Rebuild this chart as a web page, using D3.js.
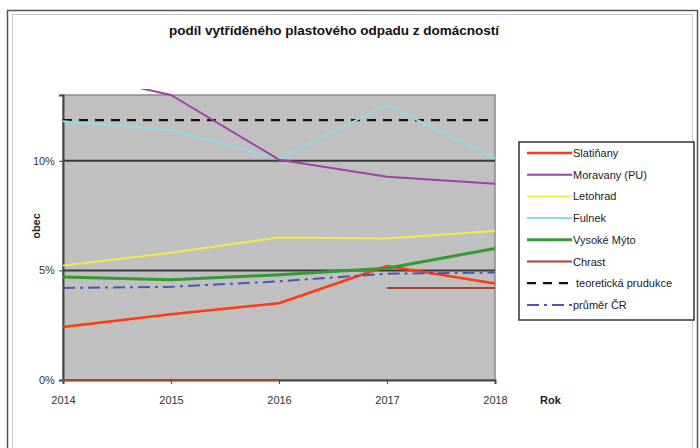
<!DOCTYPE html>
<html><head><meta charset="utf-8">
<script src="https://cdn.jsdelivr.net/npm/d3@7"></script>
<style>
html,body{margin:0;padding:0;background:#fff;}
svg{display:block;font-family:"Liberation Sans",Arial,sans-serif;}
</style></head>
<body>
<svg id="c" width="700" height="448"></svg>
<script>
const years = [2014, 2015, 2016, 2017, 2018];
const yTicks = [0, 5, 10];
const slatinany = [2.42, 3.0, 3.5, 5.2, 4.4];
const moravany = [14.1, 13.0, 10.05, 9.27, 8.95];
const letohrad = [5.22, 5.8, 6.5, 6.45, 6.8];
const fulnek = [11.8, 11.4, 10.1, 12.55, 10.1];
const vysokeMyto = [4.7, 4.57, 4.8, 5.1, 6.0];
const chrast = [0, 0, 0, 4.2, 4.2];
const chrastBreakAfter = 2016;
const teoreticka = [11.85, 11.85, 11.85, 11.85, 11.85];
const prumerCR = [4.2, 4.25, 4.5, 4.85, 4.9];

const seriesNames = ["Slatiňany","Moravany (PU)","Letohrad","Fulnek","Vysoké Mýto","Chrast","teoretická prudukce","průměr ČR"];
const seriesData = [slatinany, moravany, letohrad, fulnek, vysokeMyto, chrast, teoreticka, prumerCR];
const seriesColors = ["#ff3a10","#a040a8","#f2ea48","#90dce4","#349a34","#a84428","#111111","#4a56b0"];
const seriesWidths = [2.5, 2, 2, 2, 3, 2, 2.2, 2];
const seriesDash = [null,null,null,null,null,null,"9,7","12,5,3,5"];

const svg = d3.select("#c");
// outer frame
svg.append("rect").attr("x",7.5).attr("y",10.5).attr("width",690).attr("height",445)
  .attr("fill","#fff").attr("stroke","#555").attr("stroke-width",1.5);
svg.append("rect").attr("x",12.5).attr("y",14.5).attr("width",680).attr("height",440)
  .attr("fill","none").attr("stroke","#c8c8c8").attr("stroke-width",1);

const L=63, R=495, T=95, B=380;
const x = d3.scaleLinear().domain([2014,2018]).range([L,R]);
const y = d3.scaleLinear().domain([0,13]).range([B,T]);

svg.append("text").attr("x",334).attr("y",35).attr("text-anchor","middle")
  .attr("font-size",13.5).attr("font-weight","bold").attr("fill","#111")
  .text("podíl vytříděného plastového odpadu z domácností");

svg.append("rect").attr("x",L).attr("y",T).attr("width",R-L).attr("height",B-T)
  .attr("fill","#c0c0c0").attr("stroke","#8a8a8a").attr("stroke-width",1.5);

// grid lines
svg.selectAll(".grid").data(yTicks.filter(d=>d>0)).join("line")
  .attr("x1",L).attr("x2",R).attr("y1",d=>y(d)).attr("y2",d=>y(d))
  .attr("stroke","#3a3a3a").attr("stroke-width",2);

// axes
const yAxis = d3.axisLeft(y).tickValues(yTicks).tickFormat(d=>d+"%").tickSize(4);
const gy = svg.append("g").attr("transform",`translate(${L},0)`).call(yAxis);
const xAxis = d3.axisBottom(x).tickValues(years).tickFormat(d3.format("d")).tickSize(4);
const gx = svg.append("g").attr("transform",`translate(0,${B})`).call(xAxis);
[gx,gy].forEach(g=>{
  g.select(".domain").attr("stroke","#444").attr("stroke-width",2);
  g.selectAll(".tick line").attr("stroke","#444");
  g.selectAll("text").attr("font-family","Liberation Sans, Arial, sans-serif").attr("font-size",11).attr("fill","#333");
});
gx.selectAll("text").attr("dy","1.5em");
gy.selectAll("text").attr("dx","-0.1em");

svg.append("text").attr("x",540).attr("y",404).attr("font-size",11).attr("font-weight","bold").attr("fill","#222").text("Rok");
svg.append("text").attr("transform","translate(40,226) rotate(-90)").attr("text-anchor","middle")
  .attr("font-size",11).attr("font-weight","bold").attr("fill","#222").text("obec");

// clip
svg.append("clipPath").attr("id","clip").append("rect").attr("x",L-2).attr("y",89).attr("width",R-L+8).attr("height",B-89+2);

const lines = svg.append("g").attr("clip-path","url(#clip)");
const draw = [5,0,6,7,2,3,4,1];
draw.forEach(i=>{
  const pts = years.map((yr,j)=>({yr, v:seriesData[i][j]}));
  let segs = [pts];
  if (i===5) segs = [pts.filter(p=>p.yr<=chrastBreakAfter), pts.filter(p=>p.yr>chrastBreakAfter)];
  const gen = d3.line().x(p=>x(p.yr)).y(p=>y(p.v));
  segs.forEach(s=>{
    lines.append("path").attr("d",gen(s)).attr("fill","none")
      .attr("stroke",seriesColors[i]).attr("stroke-width",seriesWidths[i])
      .attr("stroke-dasharray",seriesDash[i]).attr("stroke-linejoin","round");
  });
});

// legend
const lg = svg.append("g");
lg.append("rect").attr("x",519).attr("y",142).attr("width",175).attr("height",178)
  .attr("fill","#fff").attr("stroke","#333").attr("stroke-width",1.5);
seriesNames.forEach((n,i)=>{
  const yy = 153 + i*21.7;
  lg.append("line").attr("x1",527).attr("x2",572).attr("y1",yy).attr("y2",yy)
    .attr("stroke",seriesColors[i]).attr("stroke-width",seriesWidths[i])
    .attr("stroke-dasharray",seriesDash[i]);
  lg.append("text").attr("x",i===6?576:573).attr("y",yy+4).attr("font-size",11).attr("fill","#222").text(n);
});
</script>
</body></html>
